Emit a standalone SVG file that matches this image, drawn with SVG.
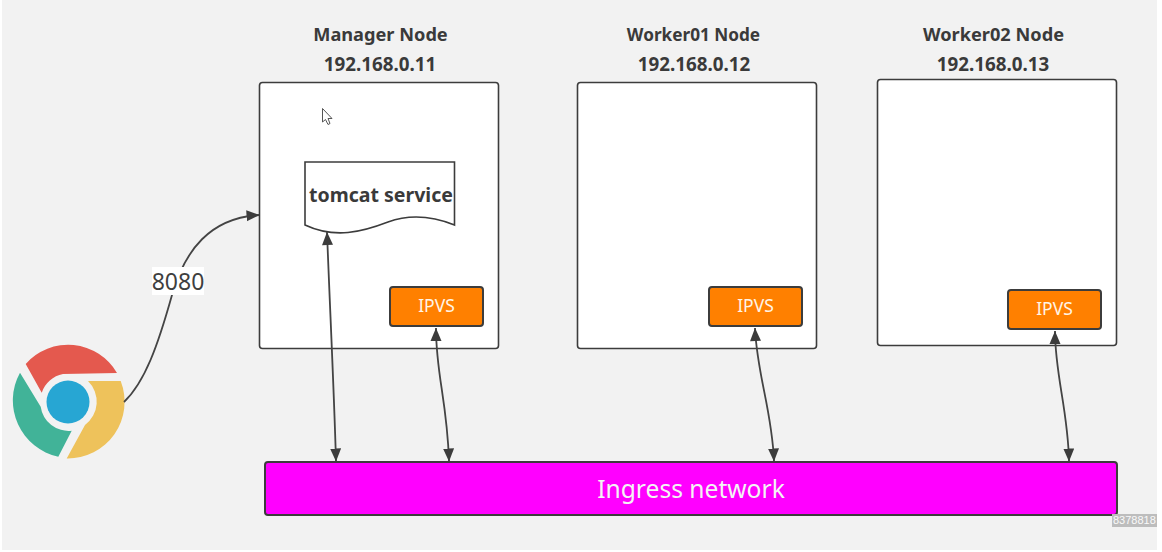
<svg xmlns="http://www.w3.org/2000/svg" width="1162" height="552" viewBox="0 0 1162 552">
<style>
.box{fill:#fff;stroke:#3c3c3c;stroke-width:1.6}
.ipvs{fill:#ff8000;stroke:#3c3c3c;stroke-width:2}
.t{font-family:"Noto Sans","Open Sans",sans-serif;text-anchor:middle}
.h{font-size:18.2px;font-weight:700;fill:#3a3a3a}
.p{font-size:18.8px;font-weight:700;fill:#3a3a3a}
.i{font-size:17.5px;fill:#fff4e6}
.c{fill:none;stroke:#444;stroke-width:1.8;marker-end:url(#a)}
.d{marker-start:url(#s)}
</style>
<defs>
<marker id="a" markerUnits="userSpaceOnUse" markerWidth="14" markerHeight="14" refX="12.500" refY="5.500" orient="auto"><path d="M0 0L13 5.500L0 11Z" fill="#3c3c3c"/></marker>
<marker id="s" markerUnits="userSpaceOnUse" markerWidth="14" markerHeight="14" refX="0" refY="5.500" orient="auto"><path d="M13 0L0 5.500L13 11Z" fill="#3c3c3c"/></marker>
</defs>
<rect width="1162" height="552" fill="#fff"/>
<rect x="2" y="0" width="1155" height="550" fill="#f2f2f2"/>
<g id="manager-node">
<rect class="box" x="259.500" y="82.500" width="239" height="266" rx="3"/>
<text class="t h" x="380.500" y="41">Manager Node</text>
<text class="t p" x="380" y="71">192.168.0.11</text>
</g>
<g id="worker01-node">
<rect class="box" x="577.500" y="82.500" width="239" height="266" rx="3"/>
<text class="t h" x="693.500" y="41" style="font-size:17.2px">Worker01 Node</text>
<text class="t p" x="694" y="71">192.168.0.12</text>
</g>
<g id="worker02-node">
<rect class="box" x="877.500" y="79.500" width="239" height="266" rx="3"/>
<text class="t h" x="993.500" y="41">Worker02 Node</text>
<text class="t p" x="993" y="71">192.168.0.13</text>
</g>
<path id="cursor" d="M322.500 108.500V122L325.500 119.500L328 124.500L330 123.500L328 118.500H332Z" fill="#fff" stroke="#555" stroke-width="1"/>
<g id="tomcat-service">
<path d="M305 162H454.500V225C432 216 410 214 388 222C362 232 335 239 305 225Z" fill="#fff" stroke="#3c3c3c" stroke-width="1.600"/>
<text class="t" x="381" y="202" font-size="19.500" font-weight="700" fill="#3a3a3a">tomcat service</text>
</g>
<g id="ipvs-manager"><rect class="ipvs" x="390" y="287" width="93" height="39" rx="3"/><text class="t i" x="436.500" y="312">IPVS</text></g>
<g id="ipvs-worker01"><rect class="ipvs" x="709" y="287" width="93" height="39" rx="3"/><text class="t i" x="755.500" y="312">IPVS</text></g>
<g id="ipvs-worker02"><rect class="ipvs" x="1008" y="290" width="93" height="39" rx="3"/><text class="t i" x="1054.500" y="315">IPVS</text></g>
<g id="ingress-network">
<rect x="265" y="462" width="852" height="53" rx="3" fill="#ff00ff" stroke="#3c3c3c" stroke-width="2"/>
<text class="t" x="691" y="498" font-size="24.600" fill="#f4f4f4">Ingress network</text>
</g>
<g id="browser">
<path d="M25.700 364A56.500 56.500 0 0 1 117 373L63 374A28 28 0 0 0 41.700 392.700Z" fill="#e4594e"/>
<path d="M120.700 381H88A29 29 0 0 1 85 425L66.700 458.500A56.800 56.800 0 0 0 120.700 381Z" fill="#eec25b"/>
<path d="M20 372.700L40.700 406.700A28 28 0 0 0 71.700 430.700L58.300 456.700A57.500 57.500 0 0 1 20 372.700Z" fill="#41b398"/>
<circle cx="68" cy="402" r="21.500" fill="#27a6d3"/>
</g>
<g id="connectors">
<path class="c" d="M124 402C145 382 158 345 172 295C185 250 210 218 259 215"/>
<path class="c d" d="M327 232C330 310 334 390 336 461"/>
<path class="c d" d="M436 328C436 375 447 400 449 461"/>
<path class="c d" d="M755 328C757 375 772 410 774 461"/>
<path class="c d" d="M1055 331C1055 375 1068 410 1069 461"/>
</g>
<g id="label-8080">
<rect x="152" y="267" width="52" height="28" fill="#fff"/>
<text class="t" x="178" y="290" font-size="23" fill="#3f3f3f">8080</text>
</g>
<g id="watermark">
<rect x="1112" y="514" width="45" height="13" fill="#bdbdbd"/>
<text x="1113" y="524" font-family="Liberation Sans,sans-serif" font-size="11" fill="#fafafa">8378818</text>
<rect x="1157" y="510" width="5" height="20" fill="#fff"/>
</g>
</svg>
